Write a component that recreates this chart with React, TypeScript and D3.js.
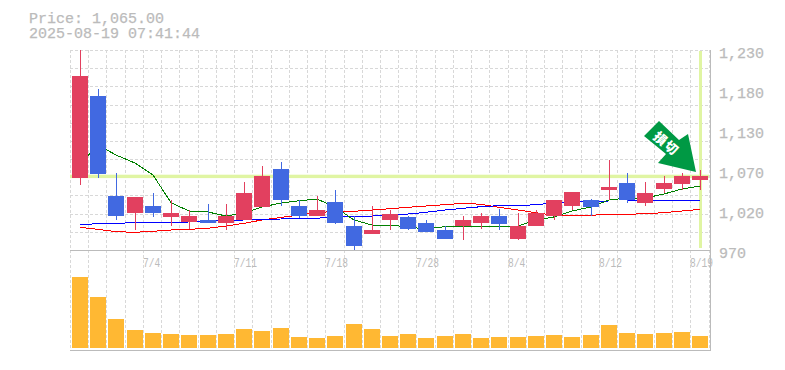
import React from "react";
import * as d3 from "d3";

const title = "Price: 1,065.00";
const stamp = "2025-08-19 07:41:44";
const priceLabels = ["1,230", "1,180", "1,130", "1,070", "1,020", "970"];
const dateLabels: [number, string][] = [[4, "7/4"], [9, "7/11"], [14, "7/18"], [19, "7/28"], [24, "8/4"], [29, "8/12"], [34, "8/19"]];
const opens = [1063,1170,1040,1017,1026,1012,1006,1009,1005,1009,1025,1075,1027,1014,1032,1000,990,1009,1012,1005,996,1000,1004,1014,984,1001,1013,1026,1035,1047,1056,1030,1049,1055,1061];
const closes = [1196,1068,1013,1038,1017,1018,1014,1005,1013,1044,1065,1034,1013,1022,1004,974,996,1016,997,993,984,1009,1014,1003,1001,1018,1034,1045,1025,1051,1034,1044,1056,1065,1065];
const highs = [1230,1178,1070,1038,1044,1034,1022,1029,1029,1058,1078,1084,1034,1039,1048,1013,1027,1022,1014,1009,1001,1014,1018,1023,1017,1022,1035,1045,1036,1086,1069,1058,1066,1070,1073];
const lows = [1054,1063,1009,995,1012,1000,997,1004,996,1009,1025,1026,1011,1014,1003,969,990,996,995,993,984,982,997,996,982,1001,1008,1021,1014,1034,1031,1026,1043,1048,1047];
const maShort = [1082,1106.5,1093.5,1083,1067.5,1031.5,1020.7,1019.4,1014.2,1018,1026,1031,1034,1036.3,1026,1009,1002.5,1002.5,1000,997.3,1000.3,1000,1000,1000.3,1001.2,1009,1013,1020.7,1026,1035,1037.6,1037.6,1042.8,1049.3,1053.2];
const maMid = [1002.9,1004.2,1004.2,1006,1006,1006,1006.4,1007.7,1008.6,1009,1009.9,1010.3,1011.2,1011.2,1013.3,1013.3,1014.2,1015.5,1016.8,1019,1022,1024.2,1026.3,1027.6,1027.6,1028.9,1031.1,1032,1033.3,1033.7,1033.7,1034.1,1034.6,1034.6,1034.6];
const maLong = [999.5,996.9,993.8,993,994.3,996,996.9,998.2,1001.2,1004.7,1009,1012.3,1015.5,1018.5,1020.3,1020.3,1022,1023.7,1025.5,1027.2,1028.9,1030.7,1029.4,1025.5,1022,1018.5,1015.1,1015.1,1015.1,1016.4,1016.4,1017.2,1018.5,1020.7,1022.9];
const volumes = [710,510,290,180,150,140,130,130,140,190,170,200,110,100,120,240,190,120,140,100,120,140,100,110,110,120,130,110,130,230,150,140,150,160,120];
const badge = "損切";

const PLOT = { left: 70, right: 710, top: 50, bottom: 250, volTop: 277, volBase: 348, volAxis: 350 };
const C = { grid: "#d8d8d8", axis: "#bbbbbb", text: "#bbbbbb", up: "#e2405f", down: "#4169e1", vol: "#ffb833", hi: "#e0f5a3", arrow: "#009944" };

export default function App() {
  const x = d3.scaleLinear().domain([0, 34]).range([72, 692]);
  const bx = (i: number) => Math.round(x(i));
  const y = d3.scaleLinear().domain([970, 1230]).range([PLOT.bottom, PLOT.top]);
  const py = (v: number) => Math.floor(y(v));
  const vy = d3.scaleLinear().domain([0, 710]).range([PLOT.volBase, PLOT.volTop]);
  const line = d3.line<number>().x((_, i) => bx(i) + 8).y((v) => y(v));
  const mono = "'Liberation Mono', monospace";
  const gridY = d3.range(0, 11).map((k) => Math.round(PLOT.top + (k * (PLOT.bottom - PLOT.top)) / 11));
  const idx = d3.range(0, 35);
  const gridX = [...idx.map((i) => bx(i) - 2), bx(34) + 17];
  const txt = { fontFamily: mono, fill: C.text, stroke: C.text, strokeWidth: 0.25 };
  return (
    <svg width={785} height={370} style={{ position: "absolute", left: 0, top: 0, background: "#fff" }}>
      <text x={29} y={23} fontSize={15} {...txt}>{title}</text>
      <text x={29} y={38} fontSize={15} {...txt}>{stamp}</text>

      <g stroke={C.grid} strokeDasharray="3 2" shapeRendering="crispEdges">
        {gridY.map((g) => <line key={g} x1={PLOT.left} x2={PLOT.right} y1={g} y2={g} />)}
        {gridX.map((g) => <line key={g} x1={g} x2={g} y1={PLOT.top} y2={PLOT.volAxis} />)}
      </g>

      <rect x={PLOT.left} width={PLOT.right - PLOT.left - 1} y={174.7} height={3.4} fill={C.hi} />
      <rect x={bx(34) + 7} width={3} y={PLOT.top + 1} height={PLOT.bottom - PLOT.top - 3} fill={C.hi} />

      <g fill="none" strokeWidth={1} shapeRendering="crispEdges">
        <path d={line(maLong) ?? ""} stroke="#ff0000" />
        <path d={line(maMid) ?? ""} stroke="#0000ff" />
        <path d={line(maShort) ?? ""} stroke="#008000" />
      </g>

      <g shapeRendering="crispEdges">
        {idx.map((i) => {
          const up = closes[i] >= opens[i];
          const col = up ? C.up : C.down;
          const top = py(Math.max(opens[i], closes[i]));
          const bot = py(Math.min(opens[i], closes[i]));
          return (
            <g key={i}>
              <rect x={bx(i) + 8} width={1} y={py(highs[i])} height={py(lows[i]) - py(highs[i])} fill={col} />
              <rect x={bx(i)} width={16} y={top} height={Math.max(bot - top, 1)} fill={col} />
            </g>
          );
        })}
        {idx.map((i) => (
          <rect key={i} x={bx(i)} width={16} y={vy(volumes[i])} height={PLOT.volBase - vy(volumes[i])} fill={C.vol} />
        ))}
        <rect x={PLOT.left} width={PLOT.right - PLOT.left + 1} y={PLOT.bottom} height={1} fill={C.axis} />
        <rect x={PLOT.left} width={PLOT.right - PLOT.left + 1} y={PLOT.volAxis} height={1} fill={C.axis} />
        <rect x={PLOT.right} width={1} y={PLOT.top} height={PLOT.volAxis - PLOT.top} fill={C.axis} />
      </g>

      {priceLabels.map((t, k) => (
        <text key={t} x={719} y={58 + k * 40} fontSize={15} {...txt}>{t}</text>
      ))}
      {dateLabels.map(([i, t]) => (
        <text key={t} x={bx(i) - 2} y={267} fontSize={13} {...txt} strokeWidth={0} textLength={t.length * 5.75} lengthAdjust="spacingAndGlyphs">{t}</text>
      ))}

      <polygon points="659,121 679,140 688,134 696,172 658,163 666,154 644,136" fill={C.arrow} />
      <text transform="translate(666.2,143.8) rotate(40)" y={4.5} textAnchor="middle" letterSpacing={1.5} fontFamily="'Noto Sans CJK JP'" fontWeight={900} fontSize={13} fill="#ffffff">{badge}</text>
    </svg>
  );
}
